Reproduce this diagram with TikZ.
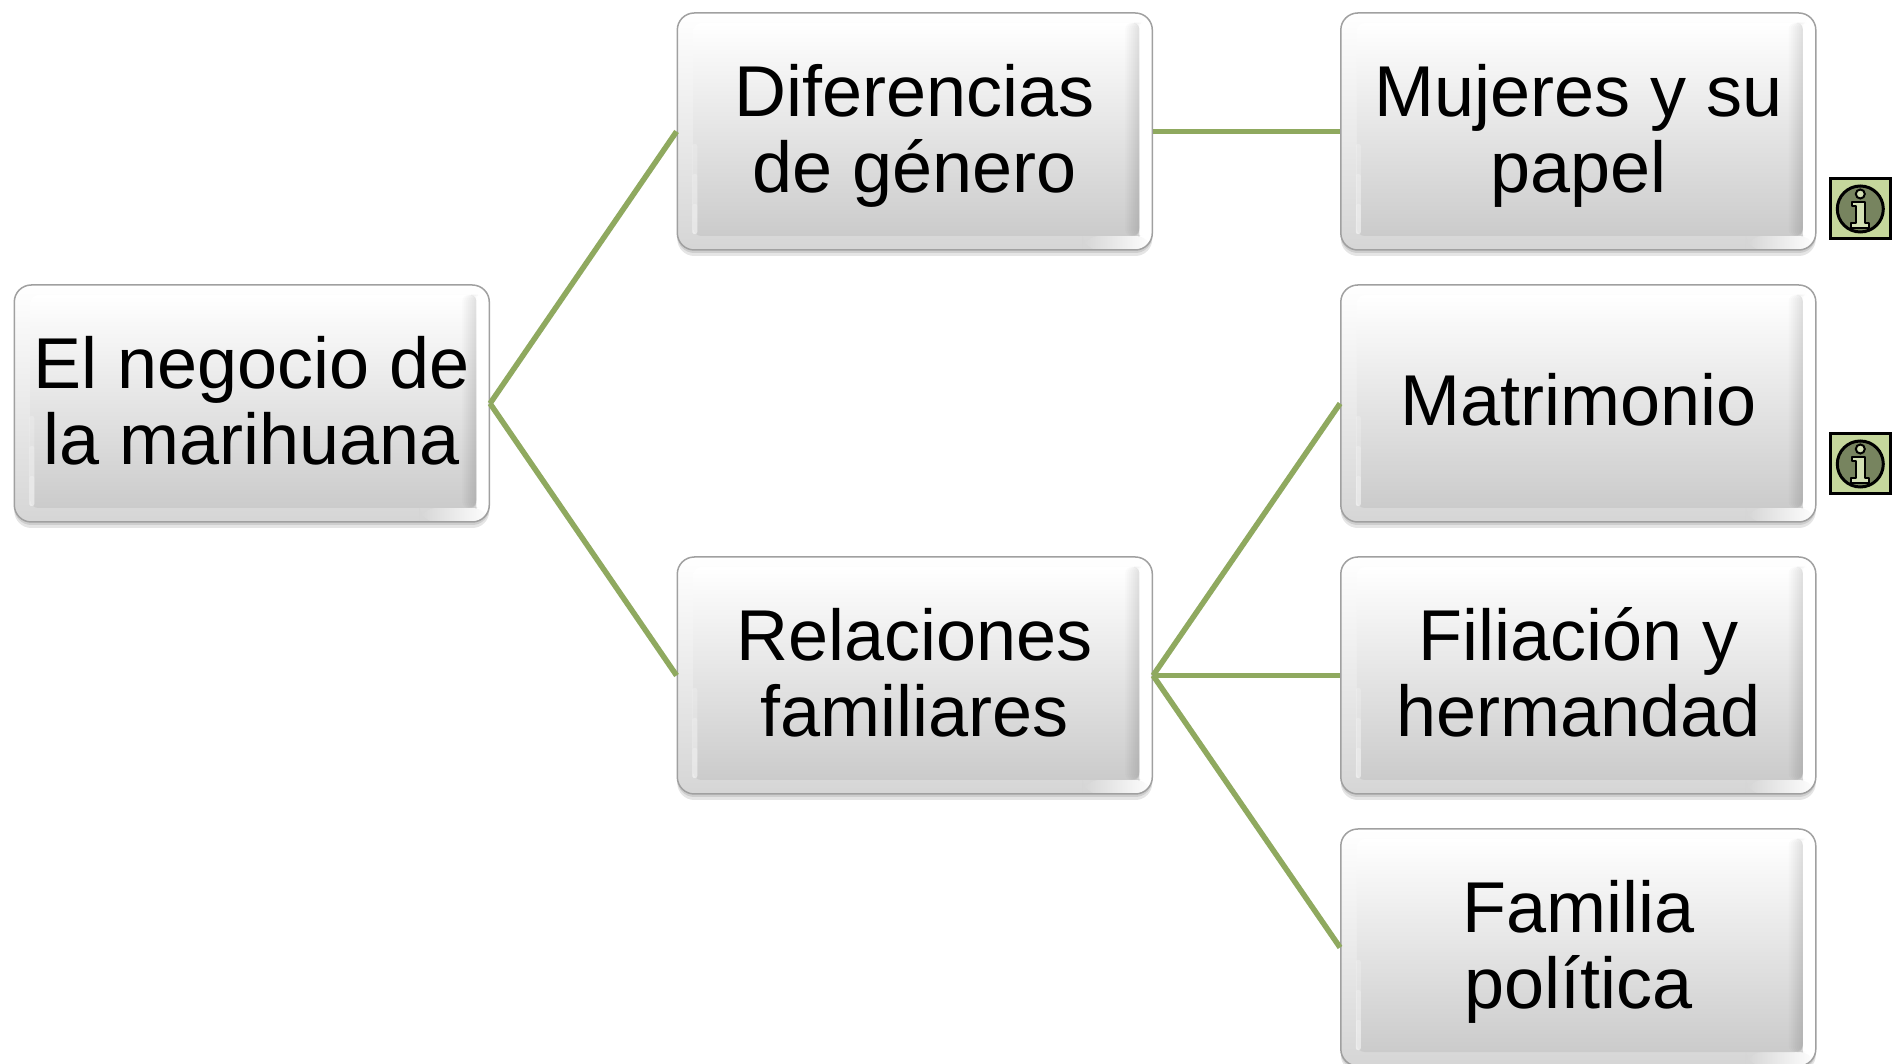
\documentclass[tikz,border=0pt]{standalone}
\usepackage{fontspec}
\setmainfont{Liberation Sans}
\usetikzlibrary{shadows}
\definecolor{linegreen}{HTML}{8FA95F}
\definecolor{boxedge}{HTML}{A0A0A0}
\definecolor{boxbottom}{HTML}{CBCBCB}
\definecolor{iconback}{HTML}{C5D79C}
\definecolor{iconfront}{HTML}{77845F}
\definecolor{iconglyph}{HTML}{D3E0B5}

\begin{document}
\begin{tikzpicture}[-,x=1pt,y=1pt,node distance=272pt,
    soft shadow/.style={general shadow={shadow yshift=-#1pt,fill=black,opacity=.1}},
    main node/.default=138,
    main node/.style={rectangle,rounded corners=17pt,draw=boxedge,line width=1.5pt,
        minimum width=475pt,minimum height=237pt,inner sep=0pt,align=center,
        font=\fontsize{72}{76}\selectfont,soft shadow=6,soft shadow=3,
        execute at begin node={\vrule height #1pt depth 0pt width 0pt},
        execute at end node={\vrule height 0pt depth 15.2pt width 0pt},
        path picture={
            \shade[top color=white,bottom color=boxbottom!80]
                (path picture bounding box.south west) rectangle (path picture bounding box.north east);
            \fill[white] ([xshift=-13pt]path picture bounding box.south east) rectangle (path picture bounding box.north east);
            \shade[left color=boxbottom!80,right color=white]
                ([xshift=-70pt]path picture bounding box.south east) rectangle ([shift={(0pt,14pt)}]path picture bounding box.south east);
            \shade[rounded corners=8pt,top color=white,bottom color=boxbottom]
                ([shift={(16pt,14pt)}]path picture bounding box.south west)
                rectangle ([shift={(-13pt,-10pt)}]path picture bounding box.north east);
            % dark band on the right, white line on the left
            \foreach \w in {2,4,...,14} {
                \fill[black,opacity=.014,rounded corners=6pt]
                    ([shift={(-13pt-\w pt,14pt)}]path picture bounding box.south east)
                    rectangle ([shift={(-13pt,-10pt)}]path picture bounding box.north east);
            }
            \foreach \h in {30,60,90} {
                \fill[white,opacity=.22,rounded corners=2pt]
                    ([shift={(15pt,16pt)}]path picture bounding box.south west)
                    rectangle ([shift={(20pt,16pt+\h pt)}]path picture bounding box.south west);
            }
        }},
    info node/.style={rectangle,draw=black,line width=3pt,fill=iconback,minimum size=60pt,inner sep=0pt},
    tree line/.style={draw=linegreen,line width=5.5pt}]

    \useasboundingbox (-251.8,403.5) rectangle (1652.2,-660.5);

    \node[main node] (root) {El negocio de\\la marihuana};
    \node[main node=59.6] (matrimonio) [right of = root,node distance=1326.5pt] {Matrimonio};
    \node[main node] (mujeres) [above of = matrimonio] {Mujeres y su\\papel};
    \node[main node] (filiacion) [below of = matrimonio] {Filiación y\\hermandad};
    \node[main node] (familia) [below of = filiacion] {Familia\\política};
    \node[main node] (diferencias) [left of = mujeres,node distance=663.5pt] {Diferencias\\de género};
    \node[main node] (relaciones) [left of = filiacion,node distance=663.5pt] {Relaciones\\familiares};

    \node[info node] (info1) [right of = mujeres,node distance=282pt,yshift=-77.5pt] {};
    \node[info node] (info2) [right of = matrimonio,node distance=282pt,yshift=-60.5pt] {};

    \draw[tree line] (root.east) to (diferencias.west);
    \draw[tree line] (root.east) to (relaciones.west);
    \draw[tree line] (diferencias.east) to (mujeres.west);
    \draw[tree line] (relaciones.east) to (matrimonio.west);
    \draw[tree line] (relaciones.east) to (filiacion.west);
    \draw[tree line] (relaciones.east) to (familia.west);

    % info icons
    \foreach \n in {1,2} {
        \draw[black,line width=3pt,fill=iconfront] (info\n.center) circle (23pt);
        \draw[black,line width=2pt,fill=iconglyph] ([shift={(0,15)}]info\n.center) circle (4.5pt);
        \draw[black,line width=2pt,fill=iconglyph,line join=round]
            ([shift={(-8,7)}]info\n.center) -- ([shift={(4.5,7)}]info\n.center) -- ([shift={(4.5,-14)}]info\n.center)
            -- ([shift={(9,-14)}]info\n.center) -- ([shift={(9,-19)}]info\n.center) -- ([shift={(-9,-19)}]info\n.center)
            -- ([shift={(-9,-14)}]info\n.center) -- ([shift={(-4.5,-14)}]info\n.center) -- ([shift={(-4.5,3)}]info\n.center)
            -- ([shift={(-8,3)}]info\n.center) -- cycle;
    }
\end{tikzpicture}
\end{document}
